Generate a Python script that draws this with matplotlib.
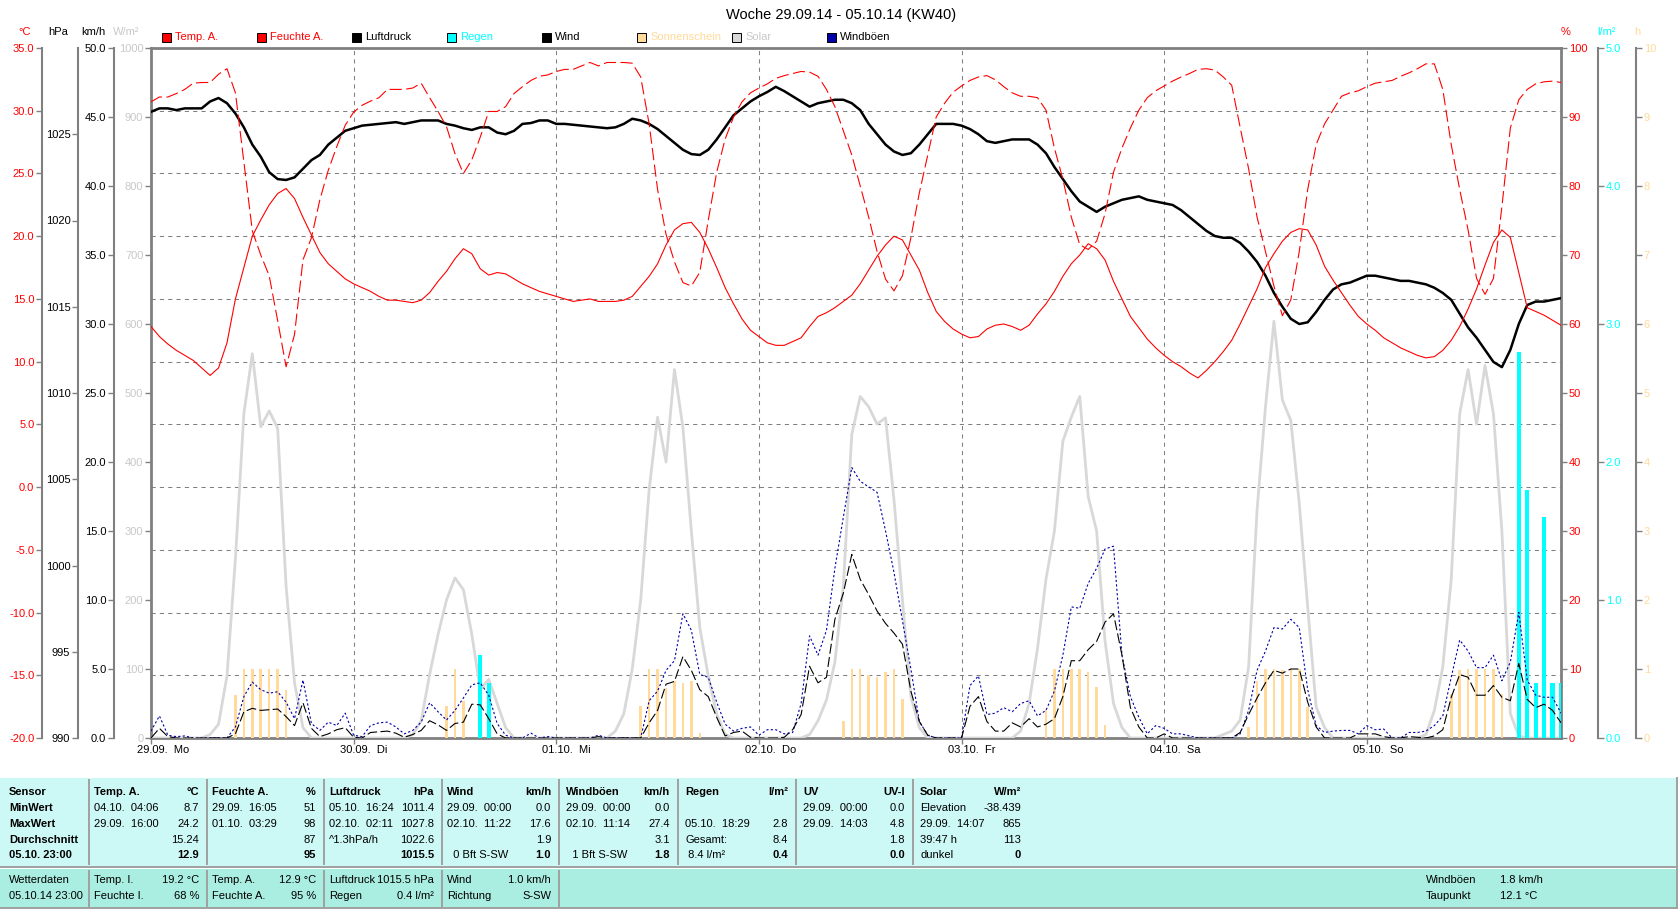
import numpy as np
import matplotlib
matplotlib.use("Agg")
import matplotlib.pyplot as plt
from matplotlib.patches import Rectangle
from matplotlib.lines import Line2D
from matplotlib.transforms import offset_copy

plt.rcParams['font.family'] = ['Liberation Sans', 'DejaVu Sans']
plt.rcParams['font.size'] = 8

# ---- hourly data, 29.09.14 00:00 ... 05.10.14 23:00 ----
hours = np.arange(168)

temp = [
    12.8, 12.0, 11.4, 10.9, 10.5, 10.1, 9.5, 8.9, 9.5, 11.5, 15.0, 17.5, 20.0, 21.3, 22.5, 23.4, 23.8, 23.0, 21.5, 20.1, 18.7, 17.8, 17.2, 16.6,
    16.2, 15.9, 15.6, 15.2, 14.9, 14.9, 14.8, 14.7, 14.9, 15.5, 16.4, 17.2, 18.2, 19.0, 18.6, 17.4, 16.9, 17.1, 17.0, 16.6, 16.2, 15.9, 15.6, 15.4,
    15.2, 15.0, 14.8, 14.9, 15.0, 14.8, 14.8, 14.8, 14.9, 15.2, 16.0, 16.8, 17.8, 19.3, 20.5, 21.0, 21.1, 20.3, 19.0, 17.5, 15.9, 14.6, 13.4, 12.5,
    12.0, 11.5, 11.3, 11.3, 11.6, 11.9, 12.8, 13.6, 13.9, 14.3, 14.8, 15.3, 16.2, 17.3, 18.4, 19.3, 20.0, 19.7, 18.5, 17.3, 15.5, 14.0, 13.2, 12.6,
    12.2, 11.9, 12.0, 12.6, 12.9, 13.0, 12.8, 12.5, 12.9, 13.8, 14.6, 15.6, 16.8, 17.8, 18.5, 19.4, 19.0, 18.1, 16.4, 15.0, 13.6, 12.7, 11.8, 11.1,
    10.5, 10.0, 9.6, 9.1, 8.7, 9.3, 10.0, 10.8, 11.7, 13.0, 14.4, 15.8, 17.5, 18.6, 19.6, 20.3, 20.6, 20.5, 19.3, 17.6, 16.5, 15.5, 14.5, 13.6,
    13.0, 12.5, 11.9, 11.5, 11.1, 10.8, 10.5, 10.3, 10.4, 10.9, 11.7, 12.8, 14.2, 15.8, 17.7, 19.5, 20.5, 19.9, 17.1, 14.3, 14.0, 13.7, 13.3, 12.9,
]

humidity = [
    92.2, 92.9, 92.9, 93.4, 94.0, 94.9, 95.0, 95.0, 96.2, 97.0, 93.5, 83.5, 73.5, 70.0, 67.0, 60.5, 53.8, 58.5, 69.3, 72.5, 78.0, 82.3, 85.7, 88.8,
    90.7, 91.7, 92.3, 92.8, 94.0, 94.0, 94.0, 94.2, 94.9, 92.8, 90.8, 88.6, 84.7, 81.8, 83.8, 87.1, 90.8, 90.8, 91.5, 93.4, 94.4, 95.3, 95.9, 96.1,
    96.6, 96.9, 96.9, 97.4, 97.9, 97.4, 97.9, 97.9, 97.9, 97.8, 95.8, 89.0, 79.5, 73.0, 69.0, 66.0, 65.5, 67.5, 75.0, 82.0, 86.8, 90.0, 92.2, 93.5,
    94.2, 94.8, 95.6, 96.0, 96.3, 96.6, 96.5, 95.9, 94.0, 91.5, 88.0, 84.5, 80.0, 75.5, 70.5, 66.5, 64.8, 67.0, 72.5, 79.0, 84.5, 90.0, 92.0, 93.6,
    94.5, 95.3, 95.8, 96.0, 95.4, 94.4, 93.5, 93.0, 93.0, 92.8, 91.0, 85.5, 81.0, 75.5, 71.5, 70.8, 72.0, 76.0, 82.0, 85.5, 88.4, 91.0, 92.8, 93.8,
    94.5, 95.2, 95.8, 96.3, 96.9, 97.0, 96.8, 95.8, 94.6, 88.5, 82.5, 75.5, 70.5, 65.5, 61.2, 63.5, 70.5, 79.5, 86.0, 89.0, 91.0, 93.0, 93.5, 93.8,
    94.4, 94.9, 95.1, 95.3, 95.9, 96.4, 97.0, 97.7, 97.7, 94.0, 86.0, 79.5, 73.6, 66.6, 64.3, 66.6, 77.0, 88.4, 92.5, 94.0, 94.8, 95.1, 95.2, 95.0,
]

pressure = [
    1026.3, 1026.5, 1026.5, 1026.4, 1026.5, 1026.5, 1026.5, 1026.9, 1027.1, 1026.8, 1026.2, 1025.4, 1024.4, 1023.7, 1022.8, 1022.4, 1022.35, 1022.5, 1023.0, 1023.5, 1023.8, 1024.4, 1024.8, 1025.2,
    1025.35, 1025.5, 1025.55, 1025.6, 1025.65, 1025.7, 1025.6, 1025.7, 1025.8, 1025.8, 1025.8, 1025.6, 1025.5, 1025.35, 1025.25, 1025.4, 1025.4, 1025.1, 1025.0, 1025.2, 1025.6, 1025.65, 1025.8, 1025.8,
    1025.6, 1025.6, 1025.55, 1025.5, 1025.45, 1025.4, 1025.35, 1025.4, 1025.6, 1025.9, 1025.8, 1025.6, 1025.3, 1024.9, 1024.5, 1024.1, 1023.85, 1023.8, 1024.1, 1024.7, 1025.4, 1026.1, 1026.5, 1026.9,
    1027.2, 1027.45, 1027.75, 1027.5, 1027.2, 1026.9, 1026.6, 1026.8, 1026.9, 1027.0, 1027.0, 1026.8, 1026.4, 1025.6, 1025.0, 1024.4, 1024.0, 1023.8, 1023.9, 1024.4, 1025.0, 1025.6, 1025.6, 1025.6,
    1025.5, 1025.3, 1025.0, 1024.6, 1024.5, 1024.6, 1024.7, 1024.7, 1024.7, 1024.4, 1023.9, 1023.1, 1022.4, 1021.7, 1021.1, 1020.8, 1020.5, 1020.8, 1021.0, 1021.2, 1021.3, 1021.4, 1021.2, 1021.1,
    1021.0, 1020.9, 1020.6, 1020.2, 1019.8, 1019.4, 1019.1, 1019.0, 1019.0, 1018.7, 1018.2, 1017.6, 1016.8, 1015.8, 1015.0, 1014.3, 1014.0, 1014.1, 1014.7, 1015.4, 1016.0, 1016.3, 1016.4, 1016.6,
    1016.8, 1016.8, 1016.7, 1016.6, 1016.5, 1016.5, 1016.4, 1016.3, 1016.1, 1015.8, 1015.4, 1014.6, 1013.8, 1013.2, 1012.5, 1011.8, 1011.5, 1012.5, 1014.0, 1015.1, 1015.3, 1015.3, 1015.4, 1015.5,
]

wind = [
    0.0, 0.7, 0.1, 0, 0, 0, 0, 0, 0, 0, 0.3, 1.9, 2.15, 2.0, 2.05, 2.1, 1.55, 0.9, 2.55, 0.7, 0.1, 0.3, 0.6, 0.75,
    0.05, 0, 0.4, 0.45, 0.5, 0.35, 0.05, 0.25, 0.55, 1.25, 0.95, 0.55, 1.05, 1.15, 2.45, 2.4, 1.4, 0.3, 0, 0, 0, 0, 0, 0,
    0, 0, 0, 0, 0, 0.1, 0, 0, 0, 0, 0, 1.1, 2.0, 3.9, 4.1, 5.9, 4.9, 3.5, 3.0, 1.5, 0.15, 0.4, 0.5, 0.05,
    0, 0, 0, 0.05, 0.6, 1.7, 5.2, 4.0, 4.4, 8.6, 10.5, 13.3, 11.5, 10.4, 9.2, 8.3, 7.6, 6.8, 3.4, 1.2, 0.2, 0, 0, 0,
    0, 2.3, 3.0, 1.2, 0.5, 0.5, 1.1, 0.8, 1.4, 0.8, 1.0, 1.4, 3.0, 5.6, 5.6, 6.4, 7.0, 8.4, 9.0, 6.0, 2.2, 0.8, 0, 0,
    0.3, 0, 0, 0, 0, 0, 0, 0, 0, 0.4, 1.7, 2.9, 4.0, 4.9, 4.7, 5.0, 5.0, 2.6, 0.8, 0, 0, 0, 0, 0.3,
    0.3, 0.3, 0.1, 0, 0, 0.1, 0.05, 0, 0.15, 0.6, 2.95, 4.6, 4.4, 3.1, 3.1, 3.8, 2.95, 2.7, 5.4, 2.8, 2.2, 2.45, 2.0, 1.1,
]

gusts = [
    0.5, 1.6, 0.2, 0.1, 0.15, 0, 0, 0, 0, 0, 0.8, 3.0, 4.05, 3.5, 3.25, 3.35, 2.6, 1.4, 4.2, 1.05, 0.55, 1.15, 0.9, 1.8,
    0.2, 0.1, 0.9, 1.1, 1.15, 0.8, 0.3, 0.55, 1.15, 2.55, 1.9, 1.3, 2.0, 2.9, 3.85, 4.0, 3.1, 1.05, 0.2, 0, 0, 0.35, 0, 0.1,
    0, 0, 0, 0, 0, 0.2, 0, 0, 0, 0, 0, 2.7, 3.4, 4.9, 5.6, 9.0, 7.8, 4.6, 4.4, 2.6, 1.0, 0.5, 0.7, 0.8,
    0.2, 0.6, 0.6, 0.3, 0.4, 2.5, 7.4, 6.0, 7.8, 12.3, 16.0, 19.6, 18.6, 18.2, 17.8, 15.0, 12.0, 8.5, 5.0, 1.2, 0.2, 0, 0, 0,
    0, 3.8, 4.5, 1.7, 1.8, 2.2, 1.9, 2.5, 2.7, 1.6, 2.0, 3.4, 6.0, 9.5, 9.4, 11.2, 12.3, 13.7, 13.9, 6.0, 3.0, 1.5, 0.3, 0.9,
    0.7, 0.3, 0.3, 0.15, 0, 0, 0, 0, 0, 0.3, 2.0, 4.9, 6.3, 8.0, 7.9, 8.6, 8.0, 3.5, 0.9, 0.4, 0.5, 0.55, 0.55, 0.3,
    0.9, 0.6, 0.65, 0, 0, 0.4, 0.4, 0.5, 0.9, 1.6, 4.4, 7.1, 6.3, 5.1, 5.1, 6.0, 4.15, 5.5, 9.1, 4.2, 3.1, 2.95, 2.95, 1.8,
]

solar = [
    0, 0, 0, 0, 0, 0, 0, 5, 20, 90, 260, 470, 557, 451, 474, 449, 220, 80, 15, 0, 0, 0, 0, 0,
    0, 0, 0, 0, 0, 0, 0, 5, 25, 92, 150, 200, 232, 215, 150, 70, 85, 50, 15, 0, 0, 0, 0, 0,
    0, 0, 0, 0, 0, 0, 0, 10, 35, 100, 200, 360, 465, 400, 534, 450, 300, 160, 90, 35, 5, 0, 0, 0,
    0, 0, 0, 0, 0, 0, 5, 25, 55, 110, 220, 440, 495, 480, 455, 464, 345, 200, 60, 15, 0, 0, 0, 0,
    0, 0, 0, 0, 0, 0, 0, 10, 50, 130, 230, 300, 430, 465, 495, 350, 300, 140, 50, 15, 0, 0, 0, 0,
    0, 0, 0, 0, 0, 0, 0, 5, 10, 26, 103, 330, 480, 604, 490, 460, 340, 190, 45, 15, 0, 0, 0, 0,
    0, 0, 0, 0, 0, 0, 0, 5, 40, 103, 230, 470, 534, 455, 540, 470, 300, 35, 3, 0, 0, 0, 0, 0,
]

sun_hours = [10, 11, 12, 13, 14, 15, 16,
             35, 36, 37,
             58, 59, 60, 61, 62, 63, 64, 65,
             82, 83, 84, 85, 86, 87, 88, 89,
             106, 107, 108, 109, 110, 111, 112, 113,
             130, 131, 132, 133, 134, 135, 136, 137,
             154, 155, 156, 157, 158, 159, 160]
sun_values = [0.62, 1.0, 1.0, 1.0, 1.0, 1.0, 0.7,
              0.46, 1.0, 0.53,
              0.47, 1.0, 1.0, 0.73, 0.83, 0.79, 0.82, 0.07,
              0.24, 1.0, 1.0, 0.92, 0.89, 0.95, 1.0, 0.56,
              0.42, 1.0, 1.0, 1.0, 1.0, 0.96, 0.74, 0.19,
              0.16, 0.83, 1.0, 1.0, 0.98, 1.0, 1.0, 0.45,
              0.64, 0.98, 1.0, 1.0, 1.0, 1.0, 0.64]

rain_hours = [39, 40, 162, 163, 164, 165, 166, 167]
rain_values = [0.6, 0.4, 2.8, 1.8, 0.4, 1.6, 0.4, 0.4]

day_labels = ["29.09.  Mo", "30.09.  Di", "01.10.  Mi", "02.10.  Do",
              "03.10.  Fr", "04.10.  Sa", "05.10.  So"]

legend_names = ["Temp. A.", "Feuchte A.", "Luftdruck", "Regen", "Wind",
                "Sonnenschein", "Solar", "Windböen"]

# summary table
table_headers = [("Sensor", ""), ("Temp. A.", "°C"), ("Feuchte A.", "%"),
                 ("Luftdruck", "hPa"), ("Wind", "km/h"), ("Windböen", "km/h"),
                 ("Regen", "l/m²"), ("UV", "UV-I"), ("Solar", "W/m²")]
table_rows = [
    [("MinWert", ""), ("04.10.  04:06", "8.7"), ("29.09.  16:05", "51"), ("05.10.  16:24", "1011.4"),
     ("29.09.  00:00", "0.0"), ("29.09.  00:00", "0.0"), ("", ""), ("29.09.  00:00", "0.0"), ("Elevation", "-38.439")],
    [("MaxWert", ""), ("29.09.  16:00", "24.2"), ("01.10.  03:29", "98"), ("02.10.  02:11", "1027.8"),
     ("02.10.  11:22", "17.6"), ("02.10.  11:14", "27.4"), ("05.10.  18:29", "2.8"), ("29.09.  14:03", "4.8"), ("29.09.  14:07", "865")],
    [("Durchschnitt", ""), ("", "15.24"), ("", "87"), ("^1.3hPa/h", "1022.6"),
     ("", "1.9"), ("", "3.1"), ("Gesamt:", "8.4"), ("", "1.8"), ("39:47 h", "113")],
    [("05.10. 23:00", ""), ("", "12.9"), ("", "95"), ("", "1015.5"),
     ("  0 Bft S-SW", "1.0"), ("  1 Bft S-SW", "1.8"), (" 8.4 l/m²", "0.4"), ("", "0.0"), ("dunkel", "0")],
]
current_rows = [
    [("Wetterdaten", ""), ("Temp. I.", "19.2 °C"), ("Temp. A.", "12.9 °C"), ("Luftdruck", "1015.5 hPa"), ("Wind", "1.0 km/h")],
    [("05.10.14 23:00", ""), ("Feuchte I.", "68 %"), ("Feuchte A.", "95 %"), ("Regen", "0.4 l/m²"), ("Richtung", "S-SW")],
]
extra_rows = [("Windböen", "1.8 km/h"), ("Taupunkt", "12.1 °C")]

# ---- colours ----
RED = "#FF0000"
CYAN = "#00FFFF"
SUN = "#FFDA9A"
SOLAR = "#D8D8D8"
SOLAR_TXT = "#C8C8C8"
BLUE = "#0000A8"
GRID = "#808080"
AXIS = "#808080"

W, H = 1680, 909
PT = 72.0 / 100  # points per pixel


def fx(px):
    return px / W


def fy(py):
    return 1 - py / H


fig = plt.figure(figsize=(W / 100, H / 100), dpi=100)
L, R, T, B = 151, 1561, 48, 738
ax0 = fig.add_axes([fx(L), fy(B), (R - L) / W, (B - T) / H])
ax0.set_xlim(0, 167)
ax0.set_ylim(-20, 35)
ax0.set_yticks([])
ax0.set_xticks(np.arange(0, 168, 24))
ax0.set_xticklabels([])
ax0.tick_params(axis='x', direction='out', length=4, color=GRID, width=1)
for s in ax0.spines.values():
    s.set_color(AXIS)
    s.set_linewidth(2.0)
for h in range(24, 168, 24):
    ax0.axvline(h, color=GRID, lw=0.75, ls=(0, (4, 4)), zorder=0)
for t in range(-15, 35, 5):
    ax0.axhline(t, color=GRID, lw=0.75, ls=(0, (4, 4)), zorder=0)

lab_trans = offset_copy(ax0.get_xaxis_transform(), fig=fig, x=-14 * PT, y=-7 * PT, units='points')
for i, lab in enumerate(day_labels):
    ax0.text(i * 24, 0, lab, transform=lab_trans, ha='left', va='top', fontsize=8)


def side_axis(side, offset_px, lo, hi, ticks, fmt, color):
    a = ax0.twinx()
    a.set_ylim(lo, hi)
    for s in a.spines.values():
        s.set_visible(False)
    sp = a.spines[side]
    sp.set_visible(offset_px > 0)
    sp.set_position(('outward', offset_px * PT))
    sp.set_color(AXIS)
    sp.set_linewidth(1.5)
    if side == 'left':
        a.yaxis.tick_left()
    else:
        a.yaxis.tick_right()
    a.set_yticks(ticks)
    a.set_yticklabels([fmt.format(v) for v in ticks])
    a.tick_params(axis='y', direction='out', color=AXIS, labelcolor=color,
                  length=4, width=1, pad=1.5, labelsize=8)
    return a


# drawing order: solar, sunshine, rain, wind, pressure, humidity, temperature
ax_s = side_axis('left', 0, 0, 1000, range(0, 1001, 100), "{}", SOLAR_TXT)
ax_s.plot(hours, solar, color=SOLAR, lw=2.0)

ax_sun = side_axis('right', 75, 0, 10, range(0, 11), "{}", SUN)
ax_sun.bar(sun_hours, sun_values, width=0.3, color=SUN, linewidth=0)

ax_r = side_axis('right', 37, 0, 5, np.arange(0, 6, 1.0), "{:.1f}", CYAN)
ax_r.bar(rain_hours, rain_values, width=0.5, color=CYAN, linewidth=0)

ax_w = side_axis('left', 37, 0, 50, np.arange(0, 51, 5.0), "{:.1f}", "black")
ax_w.plot(hours, gusts, color=BLUE, lw=0.8, ls=(0, (2, 2)))
ax_w.plot(hours, wind, color="black", lw=0.8, ls=(0, (9, 3)))

ax_p = side_axis('left', 73, 990, 1030, range(990, 1026, 5), "{}", "black")
ax_p.plot(hours, pressure, color="black", lw=1.8)

ax_h = side_axis('right', 0, 0, 100, range(0, 101, 10), "{}", RED)
ax_h.plot(hours, humidity, color=RED, lw=0.8, ls=(0, (11, 4)))

ax_t = side_axis('left', 109, -20, 35, np.arange(-20, 36, 5.0), "{:.1f}", RED)
ax_t.plot(hours, temp, color=RED, lw=0.8)

# axis unit titles
units = [("°C", 25, RED), ("hPa", 58, "black"), ("km/h", 93, "black"), ("W/m²", 126, SOLAR_TXT),
         ("%", 1566, RED), ("l/m²", 1607, CYAN), ("h", 1637, SUN)]
for txt, x, c in units:
    fig.text(fx(x), fy(32), txt, color=c, ha='center', va='center', fontsize=8)

# title
fig.text(fx(841), fy(15), "Woche 29.09.14 - 05.10.14 (KW40)", ha='center', va='center', fontsize=10.5)

# legend row
leg_face = [RED, RED, "black", CYAN, "black", SUN, SOLAR, BLUE]
leg_text = [RED, RED, "black", CYAN, "black", SUN, SOLAR_TXT, "black"]
for i, name in enumerate(legend_names):
    x0 = 162 + 95 * i
    fig.patches.append(Rectangle((fx(x0), fy(42)), 9 / W, 9 / H, transform=fig.transFigure,
                                 facecolor=leg_face[i], edgecolor="black", lw=0.7))
    fig.text(fx(x0 + 13), fy(37.5), name, color=leg_text[i], ha='left', va='center', fontsize=8)

# ---- summary table ----
TOP_BG = "#CCF8F5"
BOT_BG = "#AAEEE2"
SEP = "#A0A0A0"
fig.patches.append(Rectangle((0, fy(866)), fx(1677), (866 - 778) / H, transform=fig.transFigure,
                             facecolor=TOP_BG, edgecolor='none'))
fig.patches.append(Rectangle((0, fy(909)), fx(1677), (909 - 869) / H, transform=fig.transFigure,
                             facecolor=BOT_BG, edgecolor='none'))
for y in (866.5, 907.5):
    fig.lines.append(Line2D([0, fx(1677)], [fy(y), fy(y)], transform=fig.transFigure, color=SEP, lw=1.4))
fig.lines.append(Line2D([fx(1677), fx(1677)], [fy(778), fy(909)], transform=fig.transFigure, color=SEP, lw=1.4))

seps = [89, 207, 324, 442, 559, 678, 796, 913]
for i, x in enumerate(seps):
    fig.lines.append(Line2D([fx(x), fx(x)], [fy(780), fy(864)], transform=fig.transFigure, color=SEP, lw=1.4))
    if i < 5:
        fig.lines.append(Line2D([fx(x), fx(x)], [fy(871), fy(907)], transform=fig.transFigure, color=SEP, lw=1.4))

col_left = [9, 94, 212, 329, 447, 566, 685, 803, 920]
col_right = [None, 199, 316, 434, 551, 670, 788, 905, 1021]
row_y = [792, 808, 824, 840, 855]

for c, (hl, hr) in enumerate(table_headers):
    fig.text(fx(col_left[c]), fy(row_y[0]), hl, ha='left', va='center', fontsize=8, fontweight='bold')
    if hr:
        fig.text(fx(col_right[c]), fy(row_y[0]), hr, ha='right', va='center', fontsize=8, fontweight='bold')
for r, row in enumerate(table_rows):
    last = r == len(table_rows) - 1
    for c, (tl, tr) in enumerate(row):
        bold_left = 'bold' if c == 0 else 'normal'
        fig.text(fx(col_left[c]), fy(row_y[r + 1]), tl, ha='left', va='center', fontsize=8, fontweight=bold_left)
        if tr:
            fig.text(fx(col_right[c]), fy(row_y[r + 1]), tr, ha='right', va='center', fontsize=8,
                     fontweight='bold' if last else 'normal')

cur_y = [880, 896]
for r, row in enumerate(current_rows):
    for c, (tl, tr) in enumerate(row):
        fig.text(fx(col_left[c]), fy(cur_y[r]), tl, ha='left', va='center', fontsize=8)
        if tr:
            fig.text(fx(col_right[c]), fy(cur_y[r]), tr, ha='right', va='center', fontsize=8)
for r, (tl, tr) in enumerate(extra_rows):
    fig.text(fx(1426), fy(cur_y[r]), tl, ha='left', va='center', fontsize=8)
    fig.text(fx(1500), fy(cur_y[r]), tr, ha='left', va='center', fontsize=8)

fig.savefig("out.png", dpi=100)
